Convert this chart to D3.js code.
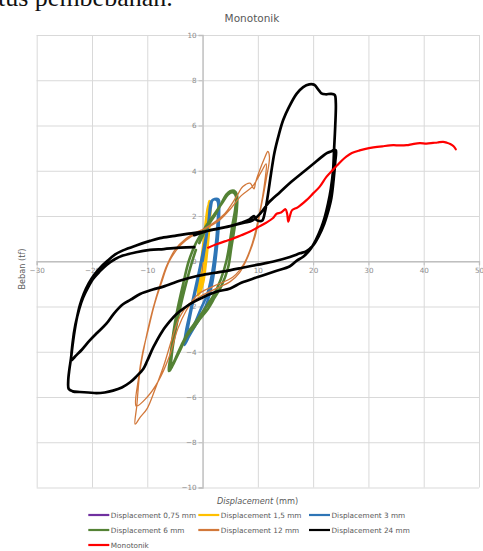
<!DOCTYPE html>
<html><head><meta charset="utf-8">
<script src="https://cdn.jsdelivr.net/npm/d3@7"></script>
<style>body{margin:0;background:#fff;overflow:hidden}svg{display:block}</style>
</head><body>
<script>
const xTicks = [-30,-20,-10,0,10,20,30,40,50];
const yTicks = [-10,-8,-6,-4,-2,0,2,4,6,8,10];
const seriesNames = ["Displacement 0,75 mm","Displacement 1,5 mm","Displacement 3 mm","Displacement 6 mm","Displacement 12 mm","Displacement 24 mm","Monotonik"];
const seriesColors = ["#7030A0","#FFC000","#2E75B6","#548235","#D2783A","#000000","#FF0000"];

const disp075 = [[0,0],[0.2,0.5],[0.35,0.9],[0.2,0.4],[0,-0.2],[-0.2,-0.6],[-0.05,-0.1],[0,0]];
const disp15 = [[0,0],[0.4,0.8],[0.8,1.7],[1.1,2.4],[1.25,2.65],[1.4,2.4],[1.2,1.6],[0.9,0.7],[0.5,-0.2],[0.1,-0.9],[-0.4,-1.3],[-0.8,-1.5],[-0.6,-0.9],[-0.2,0.0],[0.3,1.0],[0.7,1.9],[1.1,2.5],[1.3,2.3],[1.0,1.4],[0.6,0.4],[0.2,-0.5],[-0.3,-1.1],[-0.7,-1.4],[-0.5,-0.7],[-0.1,0.2]];
const disp3 = [[0,0],[0.6,0.9],[1.1,1.8],[1.6,2.65],[2.2,2.75],[2.9,2.72],[3.0,2.3],[2.9,1.5],[2.5,0.4],[1.8,-0.9],[1.0,-1.7],[0.0,-2.3],[-1.2,-2.8],[-2.4,-3.3],[-3.3,-3.7],[-3.0,-3.1],[-2.3,-2.3],[-1.5,-1.4],[-0.6,-0.4],[0.3,0.7],[1.0,1.6],[1.5,2.4],[1.8,2.7],[2.5,2.72],[2.8,2.6],[2.7,1.6],[2.3,0.5],[1.6,-0.7],[0.8,-1.5],[-0.3,-2.1],[-1.5,-2.8],[-2.5,-3.3],[-3.1,-3.6],[-2.7,-3.0],[-1.9,-2.0],[-1.0,-1.0],[-0.2,0]];
const disp6 = [[-0.6,0.8],[0.8,1.5],[2.4,2.1],[3.5,2.6],[4.3,2.95],[5.0,3.1],[5.7,3.12],[6.2,2.95],[6.2,2.3],[5.8,1.5],[5.2,0.6],[4.6,-0.3],[3.4,-1.1],[2.2,-1.6],[1.0,-2.1],[-0.3,-2.5],[-1.5,-2.9],[-2.8,-3.3],[-4.1,-3.95],[-5.2,-4.5],[-5.9,-4.82],[-6.1,-4.85],[-5.8,-4.2],[-5.3,-3.2],[-4.6,-2.2],[-3.6,-1.1],[-2.5,0.0],[-1.2,0.8],[0.5,1.5],[2.2,2.1],[3.6,2.6],[4.6,2.95],[5.4,3.05],[6.0,2.9],[5.9,2.3],[5.4,1.6],[4.9,0.8],[4.3,0.0],[3.3,-0.8],[2.0,-1.5],[0.4,-2.1],[-1.0,-2.6],[-2.5,-3.1],[-3.8,-3.7],[-4.9,-4.3],[-5.7,-4.7],[-5.6,-4.2],[-5.0,-3.2],[-4.0,-2.0],[-3.0,-1.0],[-2.0,-0.1],[-1.2,0.5]];
const disp12 = [[0,1.4],[2,1.7],[4,2.1],[6,2.8],[7.3,3.3],[8.6,3.45],[9.3,3.2],[9.6,3.5],[10.3,4.0],[11.2,4.55],[11.8,4.85],[12.1,4.6],[11.5,3.6],[10.5,2.3],[9.5,1.1],[8.2,0.2],[6.7,-0.5],[5,-0.9],[2.5,-1.2],[0,-1.5],[-2.5,-1.9],[-4.2,-2.5],[-5.5,-3.4],[-7,-4.6],[-8.5,-5.6],[-10,-6.5],[-11.3,-6.9],[-12.2,-7.2],[-11.9,-6.4],[-11.3,-4.8],[-10.4,-3.6],[-9.5,-2.6],[-8.4,-1.6],[-7.5,-0.9],[-6.5,-0.2],[-5,0.5],[-3,1.0],[-1,1.3],[1,1.5],[3,1.8],[5,2.3],[7,2.9],[9,3.3],[10.5,3.9],[11.5,4.3],[11.3,3.6],[10.2,2.0],[9,0.8],[7.5,-0.1],[5.5,-0.7],[2,-1.1],[-1,-1.5],[-3,-2.2],[-4.5,-3.0],[-6,-4.2],[-8,-5.3],[-10,-6.0],[-12,-6.4],[-11.6,-5.2],[-10.8,-4.0],[-9.8,-3.0],[-8.8,-2.0],[-7.5,-1.0],[-6,0],[-4,0.7],[-2,1.1],[0,1.3]];
const disp24 = [[-1.5,1.15],[1,1.35],[3,1.45],[5,1.55],[7,1.7],[8.5,1.85],[9.3,2.0],[9.6,1.85],[10.2,1.78],[10.8,1.8],[11.3,2.2],[11.8,2.9],[12.4,3.9],[13.0,4.8],[13.8,5.6],[14.6,6.25],[15.6,6.8],[17,7.4],[18.2,7.7],[19.3,7.82],[20.2,7.8],[20.9,7.6],[21.5,7.42],[22.3,7.38],[23.2,7.4],[23.9,7.35],[24.1,7.0],[24.0,6.0],[23.8,5.0],[23.6,4.0],[23.2,3.2],[22.7,2.55],[22.1,1.95],[21.5,1.5],[20.5,0.95],[19.4,0.5],[18.2,0.2],[17,0.02],[15.8,-0.22],[13,-0.45],[10,-0.7],[7,-0.95],[5,-1.2],[2.5,-1.35],[0,-1.6],[-2,-1.85],[-3.5,-2.1],[-4.8,-2.35],[-5.9,-2.65],[-7.3,-3.1],[-8.9,-3.8],[-10,-4.4],[-10.7,-4.75],[-12,-5.1],[-13.1,-5.35],[-14.6,-5.58],[-16.2,-5.72],[-17.7,-5.8],[-19.2,-5.83],[-20.7,-5.8],[-22.2,-5.78],[-23.5,-5.75],[-24.2,-5.65],[-24.3,-5.3],[-24.1,-4.8],[-23.8,-4.3],[-23.4,-3.5],[-22.8,-2.6],[-22.2,-1.95],[-21.5,-1.45],[-20.6,-0.98],[-19.6,-0.6],[-18.5,-0.28],[-17.2,0.02],[-15.8,0.3],[-14.4,0.48],[-12,0.7],[-9.5,0.9],[-7.7,1.02],[-5,1.12],[-2.5,1.22],[0,1.3],[2.5,1.42],[5,1.55],[7.5,1.7],[9,1.8],[10.4,2.1],[12,2.6],[14,3.05],[16,3.5],[18,3.9],[20,4.3],[21.5,4.6],[22.4,4.77],[23.2,4.85],[23.8,4.92],[24.1,4.9],[24.0,4.4],[23.7,3.6],[23.3,2.8],[22.6,2.1],[22,1.65],[21.0,1.1],[20,0.7],[18.8,0.45],[17.6,0.35],[15.8,0.19],[13,0.0],[10,-0.15],[7,-0.3],[4.9,-0.4],[2,-0.52],[-1,-0.65],[-4,-0.85],[-7.1,-1.12],[-9,-1.25],[-11.3,-1.45],[-13,-1.7],[-14.4,-1.9],[-16,-2.3],[-17.4,-2.76],[-19,-3.15],[-20.4,-3.5],[-21.8,-3.9],[-23.1,-4.22],[-23.7,-4.38],[-23.5,-3.6],[-23.0,-2.8],[-22.3,-2.1],[-21.6,-1.6],[-20.7,-1.15],[-19.7,-0.75],[-18.6,-0.45],[-17.3,-0.15],[-15.8,0.1],[-14.4,0.25],[-12,0.4],[-9.5,0.5],[-7,0.54],[-4,0.6],[-1.5,0.62]];
const monotonik = [[1.0,0.6],[2.5,0.75],[4,0.88],[5.5,1.0],[7,1.15],[8.5,1.3],[10,1.5],[11.5,1.7],[12.7,1.9],[13.4,2.1],[14.2,2.15],[15.0,2.3],[15.3,2.1],[15.5,1.75],[15.8,2.0],[16.2,2.26],[17.2,2.38],[18.8,2.7],[20,3.0],[21.2,3.3],[22.4,3.73],[23.6,4.05],[24.4,4.25],[25.2,4.45],[26,4.62],[27,4.78],[28.4,4.9],[29.5,4.97],[30.9,5.03],[32.5,5.08],[34.5,5.13],[35.5,5.12],[36.9,5.13],[38,5.18],[39.3,5.22],[40.5,5.2],[41.7,5.23],[42.5,5.25],[43.5,5.28],[44.2,5.24],[44.8,5.18],[45.4,5.08],[45.8,4.95]];

const allSeries = [disp075, disp15, disp3, disp6, disp12, disp24, monotonik];
const widths = [2.2, 3, 2.6, 2.6, 1.3, 2.7, 2.2];

const W = 483, H = 551;
const svg = d3.select("body").append("svg").attr("width", W).attr("height", H);
const font = "DejaVu Sans, sans-serif";

// document text fragment above the chart (cut off at the top, as in the reference)
svg.append("text").attr("x", -2).attr("y", 6).attr("font-family", "Liberation Serif, serif")
  .attr("font-size", 26).attr("fill", "#111").text("tus pembebanan.");

const x = d3.scaleLinear().domain([-30, 50]).range([36.7, 479]);
const y = d3.scaleLinear().domain([-10, 10]).range([487.5, 35]);

// grid
const grid = svg.append("g");
grid.append("g").attr("transform", `translate(0,${y(-10)})`)
  .call(d3.axisBottom(x).tickValues(xTicks).tickSize(-(y(-10) - y(10))).tickFormat(""))
  .call(g => { g.select(".domain").remove(); g.selectAll("line").attr("stroke", "#d9d9d9").attr("stroke-width", 1); });
grid.append("g").attr("transform", `translate(${x(-30)},0)`)
  .call(d3.axisLeft(y).tickValues(yTicks).tickSize(-(x(50) - x(-30))).tickFormat(""))
  .call(g => { g.select(".domain").remove(); g.selectAll("line").attr("stroke", "#d9d9d9").attr("stroke-width", 1); });

// axes through origin
const xAxis = svg.append("g").attr("transform", `translate(0,${y(0)})`)
  .call(d3.axisBottom(x).tickValues(xTicks).tickSize(4).tickPadding(3));
const yAxis = svg.append("g").attr("transform", `translate(${x(0)},0)`)
  .call(d3.axisLeft(y).tickValues(yTicks).tickSize(4).tickPadding(2));
[xAxis, yAxis].forEach(a => {
  a.select(".domain").attr("stroke", "#bfbfbf").attr("stroke-width", 1.3);
  a.selectAll(".tick line").attr("stroke", "#bfbfbf");
  a.selectAll("text").attr("fill", "#8c8c8c").attr("font-family", font).attr("font-size", 7.2);
});

// series
const line = d3.line().x(d => x(d[0])).y(d => y(d[1])).curve(d3.curveCatmullRom.alpha(0.5));
allSeries.forEach((s, i) => {
  svg.append("path").datum(s).attr("d", line).attr("fill", "none")
    .attr("stroke", seriesColors[i]).attr("stroke-width", widths[i])
    .attr("stroke-linejoin", "round").attr("stroke-linecap", "round");
});

// titles
svg.append("text").attr("x", 252).attr("y", 22).attr("text-anchor", "middle")
  .attr("font-family", font).attr("font-size", 10.5).attr("fill", "#595959").text("Monotonik");
const xt = svg.append("text").attr("x", 257.5).attr("y", 503.5).attr("text-anchor", "middle")
  .attr("font-family", font).attr("font-size", 8.2).attr("fill", "#595959");
xt.append("tspan").attr("font-style", "italic").text("Displacement");
xt.append("tspan").text(" (mm)");
svg.append("text").attr("transform", "translate(25,269) rotate(-90)").attr("text-anchor", "middle")
  .attr("font-family", font).attr("font-size", 8.2).attr("fill", "#595959").text("Beban (tf)");

// legend
const colX = [88.3, 198.3, 309];
const rowY = [515, 530, 545];
seriesNames.forEach((n, i) => {
  const cx = colX[i % 3], cy = rowY[Math.floor(i / 3)];
  const g = svg.append("g");
  g.append("line").attr("x1", cx).attr("x2", cx + 21).attr("y1", cy).attr("y2", cy)
    .attr("stroke", seriesColors[i]).attr("stroke-width", 2.2);
  g.append("text").attr("x", cx + 22.5).attr("y", cy + 2.6).attr("font-family", font)
    .attr("font-size", 7.3).attr("fill", "#595959").text(n);
});
</script>
</body></html>
